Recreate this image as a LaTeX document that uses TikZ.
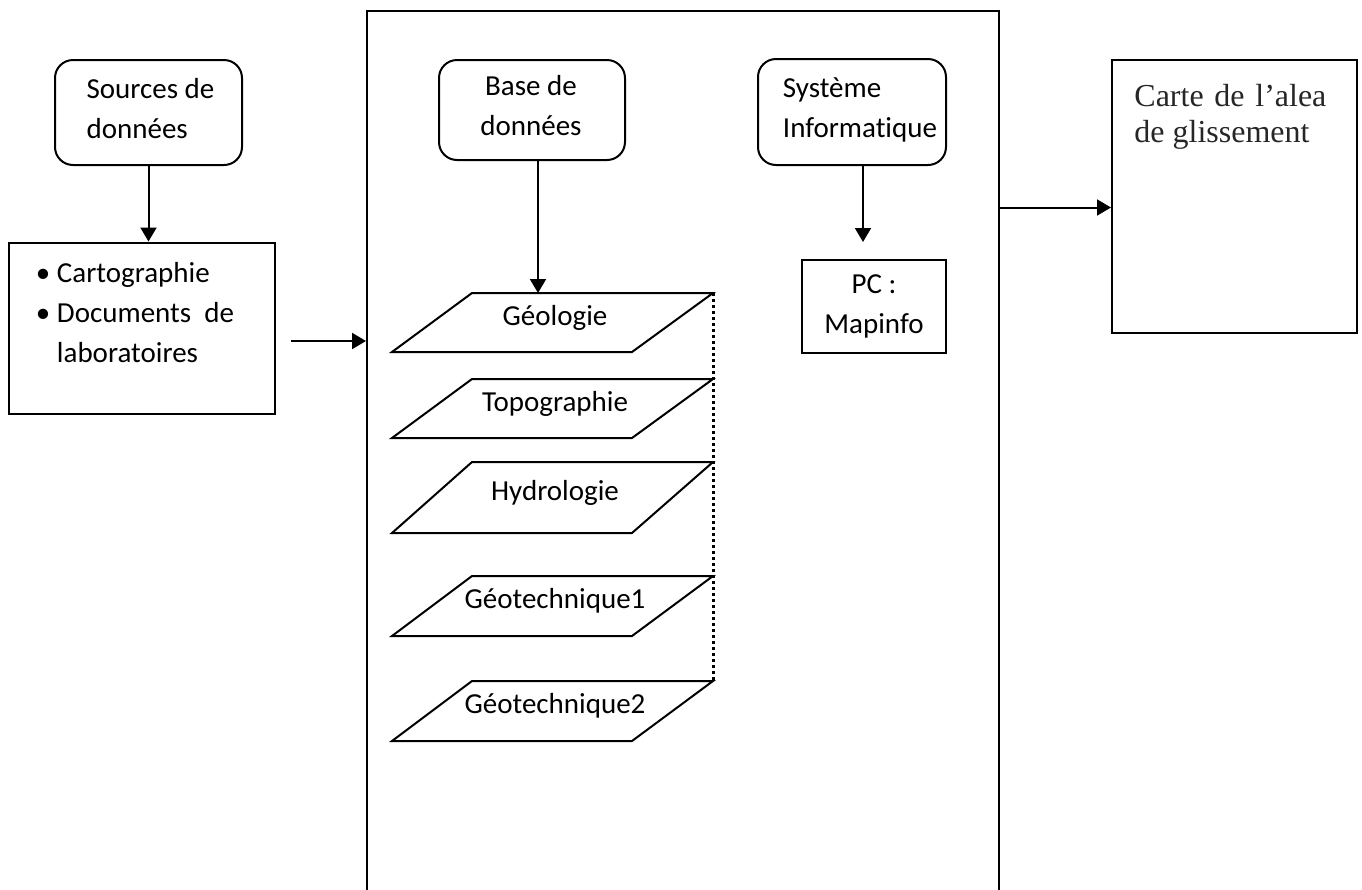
\documentclass[tikz,border=0pt]{standalone}
\usepackage{fontspec}
\setmainfont{Carlito}[Ligatures=NoCommon]
\newfontfamily\timesfont{Liberation Serif}
\usepackage{xcolor}
\usetikzlibrary{arrows.meta,positioning,calc}

\begin{document}
\begin{tikzpicture}[x=0.5pt,y=-0.5pt]
\tikzset{boite/.style={draw,line width=1pt,align=center,inner sep=0pt}}
\tikzset{arrondi/.style={boite,rounded corners=9pt}}
\tikzset{texte/.style={align=left,inner sep=0pt}}
\tikzset{fleche/.style={line width=1pt,-{Triangle[length=7pt,width=8pt]}}}
\tikzset{couche/.style={draw,line width=1pt}}
\tikzset{pointille/.style={line width=1.5pt,dash pattern=on 1.4pt off 1.6pt}}

\fontsize{14.5pt}{20pt}\selectfont

\useasboundingbox (0,0) rectangle (1362,890);

% colonne gauche
\node[arrondi,minimum width=93.5pt,minimum height=52.5pt] (sources) at (148.5,112.5) {};
\node[texte] (sources-txt) at (150.5,109) {Sources de\\données};
\node[boite,minimum width=133pt,minimum height=85.5pt] (biblio) at (142,328) {};
\node[texte] (biblio-txt) at (135,313) {\textbullet\ Cartographie\\\textbullet\ Documents\ \ de\\\phantom{\textbullet\ }laboratoires};

% bloc central
\node[boite,anchor=north west,minimum width=316pt,minimum height=445pt] (sig) at (366,10) {};
\node[arrondi,minimum width=93pt,minimum height=50pt] (base) at (532,110) {};
\node[texte,align=center] (base-txt) at (531,106) {Base de\\données};
\node[arrondi,minimum width=94pt,minimum height=53pt] (systeme) at (852,112) {};
\node[texte] (systeme-txt) at (860,110) {Système\\Informatique};
\node[boite,minimum width=72pt,minimum height=46.5pt] (pc) at (874,306.5) {PC :\\Mapinfo};

% couches
\foreach \nom/\haut/\bas/\texte in {geol/293/352/Géologie,topo/379/438/Topographie,hydro/462/533/Hydrologie,geot1/576/636/Géotechnique1,geot2/681/741/Géotechnique2}{
  \draw[couche] (472,\haut) -- (713,\haut) coordinate (\nom-tr) -- (632,\bas) -- (392,\bas) -- cycle;
  \node (\nom) at (555,{(\haut+\bas)/2-5}) {\texte};
}
\draw[pointille] (geol-tr) -- (geot2-tr);

% resultat
\node[boite,minimum width=122.5pt,minimum height=136.5pt] (carte) at (1234.5,196.5) {};
\node[anchor=north west,inner sep=0pt,align=left,font=\timesfont\fontsize{16pt}{18pt}\selectfont,text=black!85] (carte-txt) at ($(carte.north west)+(23,25)$) {\makebox[96pt][s]{Carte de l’alea}\\de glissement};

% fleches
\coordinate (entree) at (291,341);
\draw[fleche] (sources.south) -- (sources.south |- biblio.north);
\draw[fleche] (entree) -- (entree -| sig.west);
\draw[fleche] ([xshift=3pt]base.south) -- ([xshift=3pt]base.south |- geol-tr);
\draw[fleche] ([xshift=5.5pt]systeme.south) -- ($(systeme.south |- pc.north)+(11,-17)$);
\draw[fleche] ($(carte.west -| sig.east)+(0,11)$) -- ($(carte.west)+(0,11)$);

\end{tikzpicture}
\end{document}
